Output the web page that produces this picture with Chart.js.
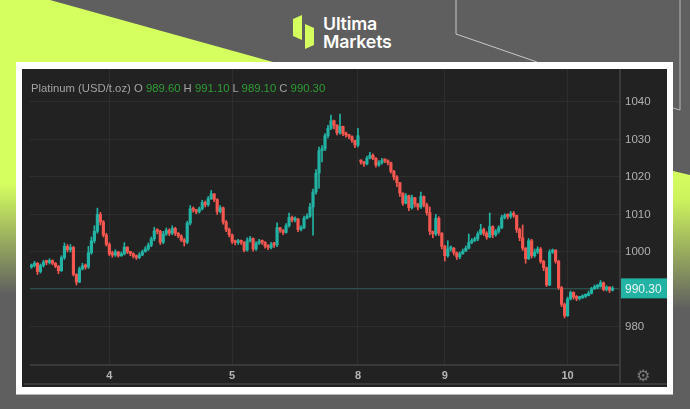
<!DOCTYPE html>
<html>
<head>
<meta charset="utf-8">
<script src="https://cdn.jsdelivr.net/npm/chart.js@4"></script>
<style>
  html, body { margin: 0; padding: 0; }
  body { width: 690px; height: 409px; overflow: hidden; position: relative; background: #5f5f5f; font-family: "Liberation Sans", Arial, sans-serif; }
  .lime-top { position: absolute; left: 0; top: 0; width: 280px; height: 62px; background: #d5fe5f; clip-path: polygon(0 0, 50px 0, 273px 62px, 0 62px); }
  .lime-left { position: absolute; left: 0; top: 62px; width: 16px; height: 232px; background: linear-gradient(#d5fe5f 0, #d5fe5f 122px, #5f5f5f 232px); }
  .lime-right { position: absolute; left: 673px; top: 171px; width: 17px; height: 142px; background: linear-gradient(#d5fe5f 0, #cdf35d 28px, #5f5f5f 138px); clip-path: polygon(0 0, 17px 4px, 17px 142px, 0 142px); }
  .decor { position: absolute; left: 0; top: 0; }
  .brand { position: absolute; left: 323px; top: 15px; color: #fff; font: 600 17.8px/17.5px Inter, sans-serif; letter-spacing: -0.2px; }
  .panel { position: absolute; left: 16px; top: 62px; width: 657px; height: 332px; background: #fff; box-shadow: 0 1px 0 #b5b5b5; }
  .dark { position: absolute; left: 22px; top: 69px; width: 645px; height: 318px; background: #222222; }
  #chart { position: absolute; left: 22px; top: 69px; filter: blur(0.6px); }
  .legend { position: absolute; left: 31px; top: 81px; font-size: 11.3px; line-height: 14px; color: #a3a3a3; white-space: nowrap; filter: blur(0.35px); }
  .legend b { font-weight: normal; color: #2f9e35; }
  .gear { position: absolute; left: 636px; top: 366px; font: 16px "DejaVu Sans", sans-serif; color: #777; filter: blur(0.3px); }
</style>
</head>
<body>
<div class="lime-top"></div>
<div class="lime-left"></div>
<div class="lime-right"></div>
<svg class="decor" width="690" height="120">
  <polyline points="456,0 456,34 537,62" fill="none" stroke="#c9c9c9" stroke-width="1"/>
  <polyline points="680,0 680,110 673,108" fill="none" stroke="#b9b9b9" stroke-width="1"/>
  <polygon points="293,19 302,15 302,40 293,36" fill="#d5fe5f"/>
  <polygon points="305,24 314,28 314,45 305,49" fill="#d5fe5f"/>
</svg>
<div class="brand">Ultima<br>Markets</div>
<div class="panel"></div>
<div class="dark"></div>
<canvas id="chart" width="645" height="318"></canvas>
<div class="legend">Platinum (USD/t.oz) O <b>989.60</b> H <b>991.10</b> L <b>989.10</b> C <b>990.30</b></div>
<div class="gear">⚙</div>

<script>
// 차트 값
const opens = [
  996.0,996.4,997.0,994.8,996.4,997.3,997.2,997.7,997.0,996.2,
  995.0,998.5,1001.5,1000.6,1001.2,994.0,992.0,995.5,996.3,996.0,
  999.8,1003.0,1005.5,1010.0,1008.0,1004.5,1002.0,999.5,999.2,1000.0,
  999.0,999.5,1001.3,1000.0,999.6,998.9,998.5,999.2,1000.0,1000.8,
  1001.8,1003.5,1005.6,1005.5,1002.6,1004.8,1005.8,1005.0,1006.3,1005.0,
  1004.3,1003.2,1002.6,1007.7,1011.5,1011.2,1010.7,1011.5,1013.2,1012.6,
  1014.2,1015.5,1014.0,1010.8,1011.8,1008.0,1006.0,1004.6,1002.8,1002.5,
  1002.8,1002.6,1000.5,1003.0,1003.6,1000.8,1002.3,1002.8,1002.6,1001.6,
  1001.2,1002.0,1001.9,1006.5,1005.8,1005.2,1007.0,1009.2,1008.5,1008.8,
  1006.0,1006.5,1009.0,1009.5,1012.0,1016.0,1021.0,1027.0,1027.5,1031.0,
  1033.0,1035.0,1033.8,1031.8,1033.5,1031.5,1031.2,1030.8,1029.8,1028.5,
  1024.4,1024.0,1023.5,1025.0,1025.8,1025.0,1023.2,1023.8,1024.4,1024.3,
  1023.8,1021.5,1020.0,1018.5,1015.7,1013.0,1015.0,1011.8,1014.5,1012.8,
  1012.0,1014.8,1012.5,1010.5,1005.5,1004.8,1009.0,1005.0,1001.5,999.0,
  1000.8,1001.0,999.8,998.7,999.5,1000.2,1001.0,1002.5,1003.0,1003.5,
  1004.8,1006.0,1005.0,1004.0,1006.8,1004.6,1005.5,1006.5,1009.2,1009.6,
  1009.5,1010.2,1009.8,1006.0,1003.8,1001.0,998.2,1003.0,999.0,1000.0,
  1000.8,997.5,995.8,991.2,1000.0,1000.5,997.5,990.5,986.0,983.0,
  987.5,989.2,988.0,987.6,987.8,988.2,988.3,989.0,990.2,990.6,
  990.8,991.8,990.0,990.6,989.8
];
const closes = [
  996.4,997.0,994.8,996.4,997.3,997.2,997.7,997.0,996.2,995.0,
  998.5,1001.5,1000.6,1001.2,994.0,992.0,995.5,996.3,996.0,999.8,
  1003.0,1005.5,1010.0,1008.0,1004.5,1002.0,999.5,999.2,1000.0,999.0,
  999.5,1001.3,1000.0,999.6,998.9,998.5,999.2,1000.0,1000.8,1001.8,
  1003.5,1005.6,1005.5,1002.6,1004.8,1005.8,1005.0,1006.3,1005.0,1004.3,
  1003.2,1002.6,1007.7,1011.5,1011.2,1010.7,1011.5,1013.2,1012.6,1014.2,
  1015.5,1014.0,1010.8,1011.8,1008.0,1006.0,1004.6,1002.8,1002.5,1002.8,
  1002.6,1000.5,1003.0,1003.6,1000.8,1002.3,1002.8,1002.6,1001.6,1001.2,
  1002.0,1001.9,1006.5,1005.8,1005.2,1007.0,1009.2,1008.5,1008.8,1006.0,
  1006.5,1009.0,1009.5,1012.0,1016.0,1021.0,1027.0,1027.5,1031.0,1033.0,
  1035.0,1033.8,1031.8,1033.5,1031.5,1031.2,1030.8,1029.8,1028.5,1031.0,
  1024.0,1023.5,1025.0,1025.8,1025.0,1023.2,1023.8,1024.4,1024.3,1023.8,
  1021.5,1020.0,1018.5,1015.7,1013.0,1015.0,1011.8,1014.5,1012.8,1012.0,
  1014.8,1012.5,1010.5,1005.5,1004.8,1009.0,1005.0,1001.5,999.0,1000.8,
  1001.0,999.8,998.7,999.5,1000.2,1001.0,1002.5,1003.0,1003.5,1004.8,
  1006.0,1005.0,1004.0,1006.8,1004.6,1005.5,1006.5,1009.2,1009.6,1009.5,
  1010.2,1009.8,1006.0,1003.8,1001.0,998.2,1003.0,999.0,1000.0,1000.8,
  997.5,995.8,991.2,1000.0,1000.5,997.5,990.5,986.0,983.0,987.5,
  989.2,988.0,987.6,987.8,988.2,988.3,989.0,990.2,990.6,990.8,
  991.8,990.0,990.6,989.8,990.3
];
const highs = [
  996.8,997.5,997.2,996.8,997.8,997.8,998.2,997.9,997.2,996.4,
  999.0,1002.4,1002.0,1002.0,1001.5,994.2,996.0,997.0,996.8,1001.5,
  1004.0,1007.0,1011.7,1010.6,1008.4,1005.0,1002.5,1000.2,1000.6,1000.2,
  1000.0,1002.5,1001.4,1000.2,999.8,999.2,999.8,1000.5,1001.4,1002.4,
  1004.0,1006.6,1006.2,1005.8,1005.5,1006.4,1006.2,1007.0,1006.6,1005.2,
  1004.6,1003.6,1008.2,1012.4,1012.0,1011.4,1012.0,1013.8,1013.6,1014.8,
  1016.4,1015.6,1014.2,1012.4,1012.0,1008.4,1006.4,1004.8,1003.2,1003.4,
  1003.2,1002.8,1003.8,1004.2,1003.8,1002.8,1003.4,1003.2,1002.8,1002.0,
  1002.6,1002.6,1007.8,1006.6,1006.0,1007.6,1010.4,1009.6,1009.4,1009.0,
  1007.0,1009.6,1010.2,1013.0,1016.8,1022.0,1028.0,1028.4,1031.6,1033.8,
  1036.5,1035.2,1034.0,1036.8,1033.6,1032.0,1031.4,1031.0,1029.8,1033.0,
  1024.6,1024.2,1025.6,1026.6,1026.2,1025.2,1024.4,1025.0,1024.8,1024.6,
  1024.0,1021.8,1020.4,1018.6,1015.8,1015.6,1015.2,1015.2,1014.6,1013.0,
  1016.0,1015.0,1013.0,1012.0,1005.6,1010.0,1009.4,1005.2,1001.8,1003.0,
  1001.6,1001.2,1000.0,1000.0,1000.8,1001.6,1004.8,1003.6,1004.0,1005.4,
  1007.4,1006.4,1005.4,1010.4,1007.0,1006.0,1007.0,1009.8,1010.2,1010.2,
  1010.8,1010.8,1009.6,1006.4,1007.2,1001.2,1003.6,1003.4,1000.8,1001.4,
  1001.2,997.8,996.0,1000.6,1000.8,1000.6,997.8,990.8,986.4,988.0,
  989.6,989.4,988.4,988.2,988.6,988.8,989.6,990.6,991.2,991.4,
  992.4,992.0,991.0,990.8,990.8
];
const lows = [
  995.6,996.0,994.0,994.4,996.0,996.6,996.8,996.6,995.8,994.2,
  994.8,998.0,1000.0,1000.0,993.6,991.2,991.8,995.2,995.4,995.6,
  999.4,1002.4,1005.0,1007.2,1004.0,1001.6,999.0,998.6,998.8,998.6,
  998.8,999.2,999.6,999.0,998.4,998.0,998.2,999.0,1000.2,1000.4,
  1001.4,1003.0,1004.8,1002.0,1002.2,1004.4,1004.4,1004.6,1004.4,1003.8,
  1002.8,1001.6,1002.2,1007.2,1010.6,1010.2,1010.4,1011.2,1012.0,1012.2,
  1014.0,1013.4,1010.0,1010.4,1007.4,1005.4,1004.0,1002.2,1001.9,1002.0,
  1002.0,1000.0,1000.2,1002.6,1000.2,1000.4,1002.0,1002.0,1001.0,1000.6,
  1000.8,1001.2,1001.4,1005.2,1004.6,1005.0,1006.6,1008.0,1008.0,1005.4,
  1005.6,1006.2,1008.8,1009.2,1004.5,1015.4,1017.0,1024.0,1027.0,1030.4,
  1032.6,1032.8,1031.2,1031.4,1031.0,1030.6,1030.2,1029.2,1027.8,1028.0,
  1023.4,1022.8,1023.2,1024.8,1024.6,1022.6,1022.8,1023.4,1023.8,1023.2,
  1021.0,1019.2,1017.4,1014.8,1012.4,1012.8,1011.0,1011.4,1012.0,1011.2,
  1011.6,1012.0,1009.8,1004.6,1003.8,1004.4,1004.4,1000.8,997.6,998.6,
  1000.2,999.2,998.0,998.2,999.4,1000.2,1000.8,1002.2,1002.8,1003.0,
  1004.6,1004.4,1003.4,1003.8,1003.8,1004.2,1005.0,1006.2,1008.8,1008.8,
  1009.0,1009.2,1005.2,1003.0,1000.4,997.0,998.0,998.4,998.6,999.6,
  997.0,995.0,990.8,991.0,999.6,997.0,990.0,985.4,982.4,982.8,
  987.2,987.4,987.0,987.2,987.6,987.8,988.4,988.8,990.0,990.2,
  990.6,989.6,989.6,989.2,989.6
];

const dayLabels = ['4', '5', '8', '9', '10'];
const dayIndex = [26, 67, 109, 138, 179];
const priceTicks = [980, 990, 1000, 1010, 1020, 1030, 1040];
const lastPrice = 990.30;
const slotCount = 197; // 오른쪽 빈 칸 포함

const UP = '#22b3a4';
const DOWN = '#f4574f';

const slots = Array.from({ length: slotCount }, (_, i) => String(i));
const bodies = closes.map((c, i) => [opens[i], c]);
const wicks = closes.map((c, i) => [lows[i], highs[i]]);
const candleColor = ctx => (closes[ctx.dataIndex] >= opens[ctx.dataIndex] ? UP : DOWN);

// 현재가 선과 가격 표시, 축 테두리
const chromePlugin = {
  id: 'chrome',
  beforeDatasetsDraw(chart) {
    const { ctx, chartArea, scales } = chart;
    const y = Math.round(scales.y.getPixelForValue(lastPrice)) + 0.5;
    ctx.save();
    ctx.strokeStyle = '#27534f';
    ctx.lineWidth = 1;
    ctx.beginPath();
    ctx.moveTo(chartArea.left, y);
    ctx.lineTo(chartArea.right, y);
    ctx.stroke();
    ctx.restore();
  },
  afterDraw(chart) {
    const { ctx, chartArea, scales } = chart;
    const y = scales.y.getPixelForValue(lastPrice);
    ctx.save();
    ctx.fillStyle = '#3a3a3a';
    ctx.fillRect(chartArea.left, chartArea.bottom, chartArea.right - chartArea.left, 2);
    ctx.fillRect(2, 314, 643, 2);
    ctx.fillRect(chartArea.right - 1, 0, 2, 315);
    ctx.fillStyle = UP;
    ctx.fillRect(chartArea.right + 1, y - 10, 46, 20);
    ctx.fillStyle = '#e8f5f3';
    ctx.font = '12px "Liberation Sans", Arial, sans-serif';
    ctx.textAlign = 'left';
    ctx.textBaseline = 'middle';
    ctx.fillText(lastPrice.toFixed(2), chartArea.right + 5, y + 1);
    ctx.restore();
  }
};

new Chart(document.getElementById('chart').getContext('2d'), {
  type: 'bar',
  data: {
    labels: slots,
    datasets: [
      { data: bodies, backgroundColor: candleColor, barThickness: 2.5, minBarLength: 2, grouped: false, order: 1 },
      { data: wicks, backgroundColor: candleColor, barThickness: 1, grouped: false, order: 2 }
    ]
  },
  plugins: [chromePlugin],
  options: {
    responsive: false,
    animation: false,
    layout: { padding: { left: 8 } },
    plugins: { legend: { display: false }, tooltip: { enabled: false } },
    scales: {
      x: {
        grid: { color: '#2e2e2e', drawTicks: false, offset: false },
        border: { display: false },
        afterBuildTicks: axis => { axis.ticks = dayIndex.map(i => ({ value: i })); },
        afterFit: axis => { axis.height = 23; axis.paddingLeft = 0; axis.paddingRight = 0; },
        ticks: {
          autoSkip: false,
          maxRotation: 0,
          padding: 5,
          color: '#b5b5b5',
          font: { family: '"Liberation Sans", Arial, sans-serif', size: 11, weight: 'bold' },
          callback: (value, idx) => dayLabels[idx]
        }
      },
      y: {
        position: 'right',
        min: 970.13,
        max: 1048.8,
        grid: { color: '#2e2e2e', drawTicks: false },
        border: { display: false },
        afterBuildTicks: axis => { axis.ticks = priceTicks.map(v => ({ value: v })); },
        afterFit: axis => { axis.width = 47; axis.paddingTop = 0; axis.paddingBottom = 0; },
        ticks: {
          padding: 5,
          color: '#b0b0b0',
          font: { family: '"Liberation Sans", Arial, sans-serif', size: 11.5 },
          callback: value => (value === 990 ? '' : String(value))
        }
      }
    }
  }
});
</script>
</body>
</html>
